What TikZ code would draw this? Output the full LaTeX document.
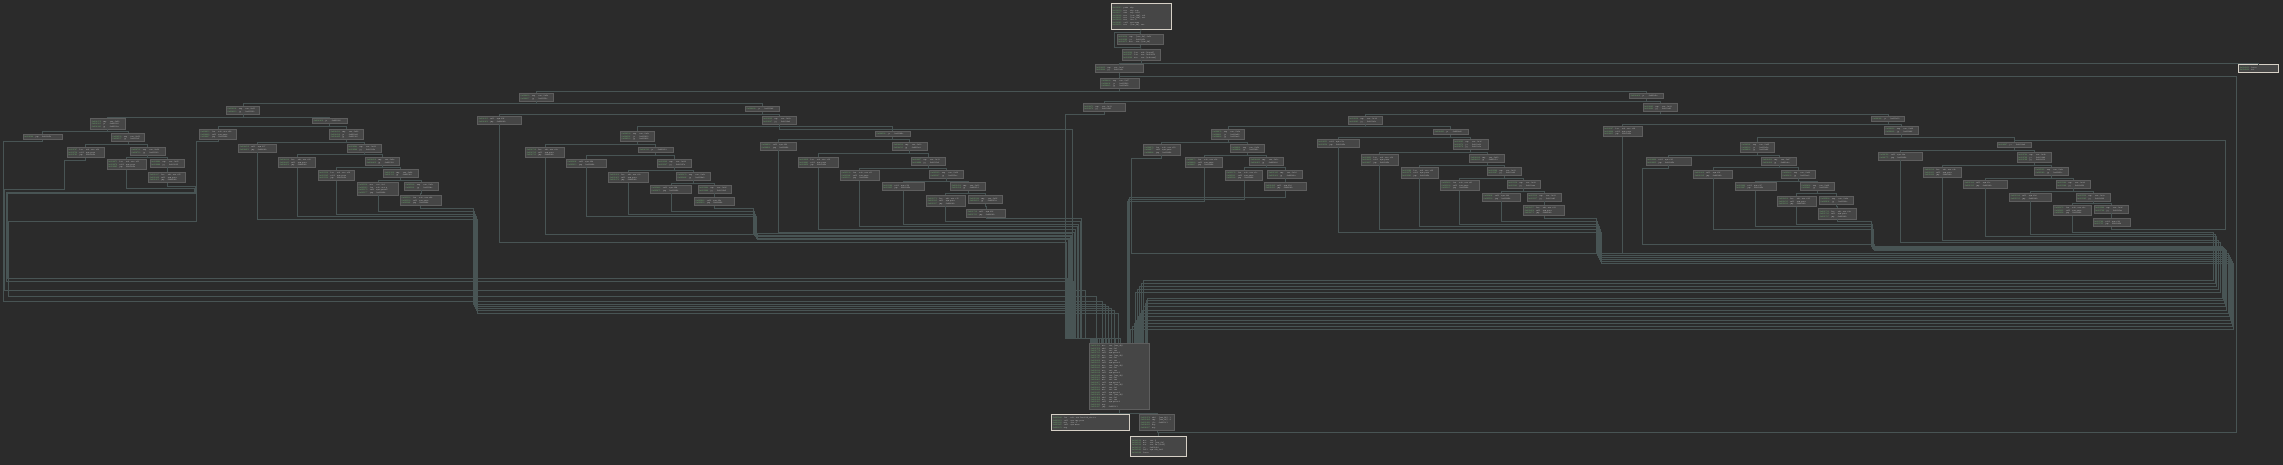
\documentclass[tikz,border=0pt]{standalone}
\usepackage{tikz}
\usetikzlibrary{positioning, calc}

\definecolor{bgdark}{RGB}{43,43,43}
\definecolor{blkfill}{RGB}{70,70,70}
\definecolor{blkline}{RGB}{94,94,94}
\definecolor{hiline}{RGB}{214,208,198}
\definecolor{addrgreen}{RGB}{112,178,112}
\definecolor{opgray}{RGB}{196,196,196}
\definecolor{edgecol}{RGB}{72,84,84}

\newcounter{addr}
\setcounter{addr}{4096}
\newcommand{\op}[2]{\par\noindent\addtocounter{addr}{7}\rule[-0.65pt]{0pt}{2.45pt}\textcolor{addrgreen}{0x00\arabic{addr}}\hspace{2.2pt}\makebox[5.5pt][l]{#1}\hspace{1.2pt}#2}
\newcommand{\cmpjg}[2]{\op{cmp}{eax, #1}\op{jg}{#2}}
\newcommand{\jeonly}[1]{\op{je}{#1}}
\newcommand{\cmpjj}[3]{\op{cmp}{eax, #1}\op{je}{#2}\op{jg}{#3}}
\newcommand{\putsleaf}[1]{\op{lea}{rdi, #1}\op{call}{sym.puts}\op{jmp}{0x40226b}}
\newcommand{\callleaf}[1]{\op{call}{#1}\op{jmp}{0x40226b}}

\begin{document}
\begin{tikzpicture}[x=1pt, y=-1pt,
  blk/.style={draw=blkline, fill=blkfill, line width=0.5pt, anchor=north west,
    inner xsep=1.4pt, inner ysep=1.2pt, text=opgray,
    font=\fontsize{2.1}{2.45}\selectfont\ttfamily},
  hiblk/.style={blk, draw=hiline, line width=0.8pt},
  cfgline/.style={draw=edgecol, line width=0.6pt}]
  \useasboundingbox (0,0) rectangle (2283,465);
  \fill[bgdark] (0,0) rectangle (2283,465);

  % Entry and dispatch
  \node[hiblk, text width=57.2pt, minimum height=25.4pt] (B0) at (1110.7,3.3) {\op{push}{rbp}\op{mov}{rbp, rsp}\op{sub}{rsp, 0x20}\op{mov}{[var\_14h], edi}\op{mov}{[var\_20h], rsi}\op{mov}{eax, 0}\op{call}{sym.menu}\op{mov}{[var\_4h], eax}};
  \node[blk, text width=43.2pt] (B1) at (1116.7,34) {\op{cmp}{[var\_4h], 0x5f}\op{ja}{0x40226b}\op{mov}{eax, [var\_4h]}};
  \node[blk, text width=35.5pt] (B2) at (1121.7,49.3) {\op{lea}{rdx, [rax*4]}\op{lea}{rax, 0x402010}\op{mov}{eax, [rdx+rax]}};
  \node[hiblk, text width=37.2pt] (R) at (2238.3,64.3) {\op{leave}{}\op{ret}{}};
  \node[blk, text width=45.2pt] (B3) at (1094.7,64.5) {\cmpjg{0x2f}{0x401e9c}};
  \node[blk, text width=35.9pt] (B4) at (1100,78) {\cmpjj{0x17}{0x4016f2}{0x401a54}};
  \node[blk, text width=31.5pt] (c0) at (519,92.7) {\cmpjg{0x0b}{0x40150e}};
  \node[blk, text width=31.2pt] (d0) at (1629.3,92.7) {\jeonly{0x401d2c}};
  \node[blk, text width=39.2pt] (B5) at (1082.7,103.3) {\cmpjg{0x11}{0x401620}};
  \node[blk, text width=31.2pt] (d1) at (1642.7,103.3) {\cmpjg{0x23}{0x401c80}};
  \node[blk, text width=31.2pt] (c1) at (745,105.7) {\jeonly{0x4013b6}};
  \node[blk, text width=30.5pt] (b1) at (226,106) {\cmpjg{0x05}{0x401302}};
  \node[blk, text width=31.5pt] (c2) at (761.7,115.7) {\cmpjg{0x0e}{0x4014a8}};
  \node[blk, text width=31.2pt] (e0) at (1347.7,115.7) {\cmpjg{0x1d}{0x401b3e}};
  \node[blk, text width=30.5pt] (f0) at (1871,115.7) {\jeonly{0x401e10}};
  \node[blk, text width=41.2pt] (c3) at (477.3,116) {\callleaf{sym.f06}};
  \node[blk, text width=31.6pt] (b3) at (312.3,118) {\jeonly{0x401290}};
  \node[blk, text width=31.6pt] (a1) at (90.3,118.3) {\cmpjj{0x02}{0x401188}{0x40120a}};
  \node[blk, text width=36.2pt] (g0) at (1602.7,126) {\putsleaf{str.c24}};
  \node[blk, text width=30.9pt] (f1) at (1884,126) {\cmpjg{0x29}{0x401f46}};
  \node[blk, text width=31.2pt] (b4) at (329.3,128.7) {\cmpjj{0x08}{0x4012d4}{0x401340}};
  \node[blk, text width=34.5pt] (b2) at (199,129) {\putsleaf{str.c04}};
  \node[blk, text width=30.5pt] (e1) at (1211,129) {\cmpjj{0x1a}{0x401a90}{0x401ae2}};
  \node[blk, text width=31.6pt] (e2) at (1433.3,129) {\jeonly{0x401bd0}};
  \node[blk, text width=32.2pt] (c5) at (875,131) {\jeonly{0x40146c}};
  \node[blk, text width=31.2pt] (c6) at (620,131) {\cmpjj{0x0c}{0x401410}{0x401438}};
  \node[blk, text width=30.5pt] (a3) at (111,133.3) {\cmpjg{0x03}{0x4011c6}};
  \node[blk, text width=36.5pt] (a2) at (22.7,133.7) {\op{jmp}{0x40226b}};
  \node[blk, text width=39.5pt] (e10) at (1316.7,139) {\callleaf{sym.f1e}};
  \node[blk, text width=32.2pt] (e11) at (1452.7,139) {\cmpjj{0x1f}{0x401c02}{0x401c3a}};
  \node[blk, text width=31.5pt] (g1) at (1740,141.7) {\cmpjj{0x26}{0x401e5a}{0x401e96}};
  \node[blk, text width=31.2pt] (h0) at (1996.7,141.7) {\jeonly{0x401fa8}};
  \node[blk, text width=33.2pt] (c4) at (760,142) {\callleaf{sym.f0f}};
  \node[blk, text width=31.6pt] (c16) at (892.3,142) {\cmpjg{0x12}{0x4015a2}};
  \node[blk, text width=31.2pt] (b6) at (346.7,143.7) {\cmpjg{0x09}{0x40136a}};
  \node[blk, text width=35.2pt] (b5) at (238.3,144) {\callleaf{sym.f07}};
  \node[blk, text width=34.2pt] (e3) at (1143,144.3) {\putsleaf{str.c19}};
  \node[blk, text width=31.5pt] (e4) at (1230,144.3) {\cmpjg{0x1b}{0x401b0c}};
  \node[blk, text width=31.9pt] (a5) at (130,146.7) {\cmpjg{0x04}{0x4011f0}};
  \node[blk, text width=35.9pt] (c7) at (525.3,146.7) {\putsleaf{str.c0a}};
  \node[blk, text width=31.6pt] (c8) at (638.3,146.7) {\jeonly{0x401452}};
  \node[blk, text width=34.2pt] (a4) at (66.7,147) {\putsleaf{str.c02}};
  \node[blk, text width=40.9pt] (f2) at (1878,151.7) {\callleaf{sym.f2a}};
  \node[blk, text width=31.5pt] (h1) at (2016.7,151.7) {\cmpjj{0x2b}{0x401fd4}{0x402012}};
  \node[blk, text width=34.5pt] (e12) at (1360.7,154.3) {\putsleaf{str.c1f}};
  \node[blk, text width=32.2pt] (e13) at (1469.3,154.3) {\cmpjg{0x20}{0x401c5e}};
  \node[blk, text width=33.9pt] (b7) at (278.3,156.7) {\putsleaf{str.c08}};
  \node[blk, text width=31.2pt] (b8) at (365.3,156.7) {\cmpjg{0x0a}{0x401392}};
  \node[blk, text width=34.5pt] (e5) at (1185,156.7) {\putsleaf{str.c1b}};
  \node[blk, text width=31.2pt] (e6) at (1249.3,156.7) {\cmpjg{0x1c}{0x401b28}};
  \node[blk, text width=42.2pt] (g2) at (1645.7,156.7) {\callleaf{sym.f25}};
  \node[blk, text width=31.9pt] (g3) at (1761.3,156.7) {\cmpjg{0x27}{0x401ebc}};
  \node[blk, text width=37.5pt] (c17) at (797.7,157) {\putsleaf{str.c10}};
  \node[blk, text width=31.5pt] (c18) at (910.7,157) {\cmpjg{0x13}{0x4015c8}};
  \node[blk, text width=36.2pt] (a6) at (106.7,159) {\putsleaf{str.c03}};
  \node[blk, text width=31.2pt] (a7) at (149.7,159) {\cmpjg{0x05}{0x401216}};
  \node[blk, text width=37.2pt] (c9) at (566,159) {\callleaf{sym.f0b}};
  \node[blk, text width=31.2pt] (c10) at (656.7,159) {\cmpjg{0x0d}{0x40147a}};
  \node[blk, text width=34.6pt] (h2) at (1923.3,167) {\putsleaf{str.c2b}};
  \node[blk, text width=30.9pt] (h3) at (2034,167) {\cmpjg{0x2c}{0x40203c}};
  \node[blk, text width=34.2pt] (e14) at (1400.7,167.3) {\putsleaf{str.c20}};
  \node[blk, text width=31.5pt] (e15) at (1486.7,167.3) {\cmpjg{0x21}{0x401c84}};
  \node[blk, text width=31.6pt] (b10) at (383.3,169.3) {\cmpjg{0x0b}{0x4013b8}};
  \node[blk, text width=33.8pt] (b9) at (317.7,169.7) {\putsleaf{str.c09}};
  \node[blk, text width=36.2pt] (c19) at (840,170) {\putsleaf{str.c11}};
  \node[blk, text width=30.9pt] (c20) at (929,170) {\cmpjg{0x14}{0x4015ee}};
  \node[blk, text width=34.5pt] (e7) at (1225,170) {\putsleaf{str.c1c}};
  \node[blk, text width=32.2pt] (e8) at (1267.3,170) {\cmpjg{0x1d}{0x401b4e}};
  \node[blk, text width=36.2pt] (g4) at (1693.3,170) {\callleaf{sym.f26}};
  \node[blk, text width=31.2pt] (g5) at (1781,170) {\cmpjg{0x28}{0x401ee2}};
  \node[blk, text width=34.2pt] (a8) at (148.3,172) {\putsleaf{str.c05}};
  \node[blk, text width=36.6pt] (c11) at (608.3,172) {\putsleaf{str.c0c}};
  \node[blk, text width=31.2pt] (c12) at (676,172) {\cmpjg{0x0e}{0x4014a0}};
  \node[blk, text width=36.2pt] (e16) at (1440,180) {\putsleaf{str.c21}};
  \node[blk, text width=30.5pt] (e17) at (1506.7,180) {\cmpjg{0x22}{0x401caa}};
  \node[blk, text width=41.2pt] (h4) at (1963.3,180) {\callleaf{sym.f2c}};
  \node[blk, text width=31.5pt] (h5) at (2055.7,180) {\cmpjg{0x2d}{0x402062}};
  \node[blk, text width=38.5pt] (b11) at (357,182) {\op{mov}{esi, 0x3}\op{lea}{rdi, str.q}\op{call}{sym.printf}\op{jmp}{0x40226b}};
  \node[blk, text width=30.9pt] (b12) at (404,182) {\cmpjg{0x0c}{0x4013de}};
  \node[blk, text width=39.8pt] (c21) at (881.7,182.3) {\callleaf{sym.f14}};
  \node[blk, text width=31.9pt] (c22) at (950.3,182.3) {\cmpjg{0x15}{0x401614}};
  \node[blk, text width=38.9pt] (e9) at (1264.3,182.3) {\callleaf{sym.f1d}};
  \node[blk, text width=38.2pt] (g6) at (1734.7,182.3) {\callleaf{sym.f27}};
  \node[blk, text width=30.9pt] (g7) at (1800,182.3) {\cmpjg{0x29}{0x401f08}};
  \node[blk, text width=38.5pt] (c13) at (650,185) {\callleaf{sym.f0d}};
  \node[blk, text width=30.5pt] (c14) at (697.7,185) {\cmpjg{0x0f}{0x4014c6}};
  \node[blk, text width=35.2pt] (e18) at (1482,192.7) {\callleaf{sym.f22}};
  \node[blk, text width=31.5pt] (e19) at (1526.7,192.7) {\cmpjg{0x23}{0x401cd0}};
  \node[blk, text width=39.2pt] (h6) at (2009.3,192.7) {\callleaf{sym.f2d}};
  \node[blk, text width=31.2pt] (h7) at (2075.7,192.7) {\cmpjg{0x2e}{0x402088}};
  \node[blk, text width=37.9pt] (b13) at (400,195) {\putsleaf{str.c0b}};
  \node[blk, text width=35.6pt] (c23) at (926.3,195.3) {\putsleaf{str.c15}};
  \node[blk, text width=31.2pt] (c24) at (968.3,195.3) {\cmpjg{0x16}{0x40163a}};
  \node[blk, text width=35.6pt] (g8) at (1777.3,195.7) {\putsleaf{str.c29}};
  \node[blk, text width=31.5pt] (g9) at (1819,195.7) {\cmpjg{0x2a}{0x401f2e}};
  \node[blk, text width=37.5pt] (c15) at (694,197.3) {\callleaf{sym.f0e}};
  \node[blk, text width=37.9pt] (e20) at (1523.3,205) {\putsleaf{str.c23}};
  \node[blk, text width=35.2pt] (h8) at (2053,205) {\putsleaf{str.c2e}};
  \node[blk, text width=31.2pt] (h9) at (2093.7,205) {\cmpjg{0x2f}{0x4020ae}};
  \node[blk, text width=34.9pt] (g10) at (1818.3,208.3) {\putsleaf{str.c2a}};
  \node[blk, text width=36.2pt] (c25) at (966.3,208.7) {\callleaf{sym.f16}};
  \node[blk, text width=34.5pt] (h10) at (2092.7,218.3) {\callleaf{sym.f2f}};

  % Join block and exits
  \node[blk, text width=56.9pt] (big) at (1089.3,342.7) {\foreach \k in {1,...,6}{\op{mov}{eax, [var\_4h]}\op{add}{eax, 0x1}\op{mov}{esi, eax}\op{call}{sym.printf}}\op{nop}{}\op{jmp}{0x4011f3}};
  \node[hiblk, text width=75.2pt, minimum height=15.7pt] (P1) at (1051,414.3) {\op{lea}{rdi, str.Invalid\_choice}\op{call}{sym.imp.puts}\op{mov}{eax, 0}\op{call}{sym.menu}\op{nop}{}};
  \node[blk, text width=32.2pt, minimum height=15.7pt] (P2) at (1139.3,414.3) {\op{add}{[var\_8h], 1}\op{cmp}{[var\_8h], 9}\op{jle}{0x4011f3}\op{nop}{}\op{nop}{}};
  \node[hiblk, text width=52.6pt, minimum height=20.3pt] (P3) at (1130.3,435.7) {\op{mov}{eax, 0}\op{mov}{rcx, [var\_8h]}\op{xor}{rcx, fs:[0x28]}\op{je}{0x4022b1}\op{call}{sym.chk\_fail}\op{leave}{}};

  % Tree edges
  \draw[cfgline] (B0.south) -- (B1.north);
  \draw[cfgline] (B1.south) -- ++(0,2) -| (1114.5,32) -| (B1.north);
  \draw[cfgline] (B1.south) -- (B2.north);
  \draw[cfgline] (B2.south) -- ++(0,3.5) -| (B3.north);
  \draw[cfgline] (B2.south) -- ++(0,3.5) -| (R.north);
  \draw[cfgline] (B3.south) -- ++(0,2.5) -| (B4.north);
  \draw[cfgline] (B4.south) -- ++(0,2.5) -| (c0.north);
  \draw[cfgline] (B4.south) -- ++(0,2.5) -| (d0.north);
  \draw[cfgline] (d0.south) -- ++(0,2.5) -| (B5.north);
  \draw[cfgline] (d0.south) -- ++(0,2.5) -| (d1.north);
  \draw[cfgline] (c0.south) -- ++(0,2.5) -| (b1.north);
  \draw[cfgline] (c0.south) -- ++(0,2.5) -| (c1.north);
  \draw[cfgline] (c1.south) -- ++(0,2.5) -| (c3.north);
  \draw[cfgline] (c1.south) -- ++(0,2.5) -| (c2.north);
  \draw[cfgline] (c2.south) -- ++(0,2.5) -| (c6.north);
  \draw[cfgline] (c2.south) -- ++(0,2.5) -| (c5.north);
  \draw[cfgline] (c5.south) -- ++(0,2.5) -| (c4.north);
  \draw[cfgline] (c5.south) -- ++(0,2.5) -| (c16.north);
  \draw[cfgline] (c6.south) -- ++(0,2.5) -| (c7.north);
  \draw[cfgline] (c6.south) -- ++(0,2.5) -| (c8.north);
  \draw[cfgline] (c8.south) -- ++(0,2.5) -| (c9.north);
  \draw[cfgline] (c8.south) -- ++(0,2.5) -| (c10.north);
  \draw[cfgline] (c10.south) -- ++(0,2.5) -| (c11.north);
  \draw[cfgline] (c10.south) -- ++(0,2.5) -| (c12.north);
  \draw[cfgline] (c12.south) -- ++(0,2.5) -| (c13.north);
  \draw[cfgline] (c12.south) -- ++(0,2.5) -| (c14.north);
  \draw[cfgline] (c14.south) -- ++(0,2.5) -| (c15.north);
  \draw[cfgline] (c16.south) -- ++(0,2.5) -| (c17.north);
  \draw[cfgline] (c16.south) -- ++(0,2.5) -| (c18.north);
  \draw[cfgline] (c18.south) -- ++(0,2.5) -| (c19.north);
  \draw[cfgline] (c18.south) -- ++(0,2.5) -| (c20.north);
  \draw[cfgline] (c20.south) -- ++(0,2.5) -| (c21.north);
  \draw[cfgline] (c20.south) -- ++(0,2.5) -| (c22.north);
  \draw[cfgline] (c22.south) -- ++(0,2.5) -| (c23.north);
  \draw[cfgline] (c22.south) -- ++(0,2.5) -| (c24.north);
  \draw[cfgline] (c24.south) -- ++(0,2.5) -| (c25.north);
  \draw[cfgline] (b1.south) -- ++(0,2.5) -| (a1.north);
  \draw[cfgline] (b1.south) -- ++(0,2.5) -| (b3.north);
  \draw[cfgline] (a1.south) -- ++(0,2.5) -| (a2.north);
  \draw[cfgline] (a1.south) -- ++(0,2.5) -| (a3.north);
  \draw[cfgline] (a3.south) -- ++(0,2.5) -| (a4.north);
  \draw[cfgline] (a3.south) -- ++(0,2.5) -| (a5.north);
  \draw[cfgline] (a5.south) -- ++(0,2.5) -| (a6.north);
  \draw[cfgline] (a5.south) -- ++(0,2.5) -| (a7.north);
  \draw[cfgline] (a7.south) -- ++(0,2.5) -| (a8.north);
  \draw[cfgline] (b3.south) -- ++(0,2.5) -| (b2.north);
  \draw[cfgline] (b3.south) -- ++(0,2.5) -| (b4.north);
  \draw[cfgline] (b4.south) -- ++(0,2.5) -| (b5.north);
  \draw[cfgline] (b4.south) -- ++(0,2.5) -| (b6.north);
  \draw[cfgline] (b6.south) -- ++(0,2.5) -| (b7.north);
  \draw[cfgline] (b6.south) -- ++(0,2.5) -| (b8.north);
  \draw[cfgline] (b8.south) -- ++(0,2.5) -| (b9.north);
  \draw[cfgline] (b8.south) -- ++(0,2.5) -| (b10.north);
  \draw[cfgline] (b10.south) -- ++(0,2.5) -| (b11.north);
  \draw[cfgline] (b10.south) -- ++(0,2.5) -| (b12.north);
  \draw[cfgline] (b12.south) -- ++(0,2.5) -| (b13.north);
  \draw[cfgline] (d1.south) -- ++(0,2.5) -| (e0.north);
  \draw[cfgline] (d1.south) -- ++(0,2.5) -| (f0.north);
  \draw[cfgline] (e0.south) -- ++(0,2.5) -| (e1.north);
  \draw[cfgline] (e0.south) -- ++(0,2.5) -| (e2.north);
  \draw[cfgline] (e1.south) -- ++(0,2.5) -| (e3.north);
  \draw[cfgline] (e1.south) -- ++(0,2.5) -| (e4.north);
  \draw[cfgline] (e4.south) -- ++(0,2.5) -| (e5.north);
  \draw[cfgline] (e4.south) -- ++(0,2.5) -| (e6.north);
  \draw[cfgline] (e6.south) -- ++(0,2.5) -| (e7.north);
  \draw[cfgline] (e6.south) -- ++(0,2.5) -| (e8.north);
  \draw[cfgline] (e8.south) -- ++(0,2.5) -| (e9.north);
  \draw[cfgline] (e2.south) -- ++(0,2.5) -| (e10.north);
  \draw[cfgline] (e2.south) -- ++(0,2.5) -| (e11.north);
  \draw[cfgline] (e11.south) -- ++(0,2.5) -| (e12.north);
  \draw[cfgline] (e11.south) -- ++(0,2.5) -| (e13.north);
  \draw[cfgline] (e13.south) -- ++(0,2.5) -| (e14.north);
  \draw[cfgline] (e13.south) -- ++(0,2.5) -| (e15.north);
  \draw[cfgline] (e15.south) -- ++(0,2.5) -| (e16.north);
  \draw[cfgline] (e15.south) -- ++(0,2.5) -| (e17.north);
  \draw[cfgline] (e17.south) -- ++(0,2.5) -| (e18.north);
  \draw[cfgline] (e17.south) -- ++(0,2.5) -| (e19.north);
  \draw[cfgline] (e19.south) -- ++(0,2.5) -| (e20.north);
  \draw[cfgline] (f0.south) -- ++(0,2.5) -| (g0.north);
  \draw[cfgline] (f0.south) -- ++(0,2.5) -| (f1.north);
  \draw[cfgline] (f1.south) -- ++(0,2.5) -| (g1.north);
  \draw[cfgline] (f1.south) -- ++(0,2.5) -| (h0.north);
  \draw[cfgline] (h0.south) -- ++(0,2.5) -| (f2.north);
  \draw[cfgline] (h0.south) -- ++(0,2.5) -| (h1.north);
  \draw[cfgline] (g1.south) -- ++(0,2.5) -| (g2.north);
  \draw[cfgline] (g1.south) -- ++(0,2.5) -| (g3.north);
  \draw[cfgline] (g3.south) -- ++(0,2.5) -| (g4.north);
  \draw[cfgline] (g3.south) -- ++(0,2.5) -| (g5.north);
  \draw[cfgline] (g5.south) -- ++(0,2.5) -| (g6.north);
  \draw[cfgline] (g5.south) -- ++(0,2.5) -| (g7.north);
  \draw[cfgline] (g7.south) -- ++(0,2.5) -| (g8.north);
  \draw[cfgline] (g7.south) -- ++(0,2.5) -| (g9.north);
  \draw[cfgline] (g9.south) -- ++(0,2.5) -| (g10.north);
  \draw[cfgline] (h1.south) -- ++(0,2.5) -| (h2.north);
  \draw[cfgline] (h1.south) -- ++(0,2.5) -| (h3.north);
  \draw[cfgline] (h3.south) -- ++(0,2.5) -| (h4.north);
  \draw[cfgline] (h3.south) -- ++(0,2.5) -| (h5.north);
  \draw[cfgline] (h5.south) -- ++(0,2.5) -| (h6.north);
  \draw[cfgline] (h5.south) -- ++(0,2.5) -| (h7.north);
  \draw[cfgline] (h7.south) -- ++(0,2.5) -| (h8.north);
  \draw[cfgline] (h7.south) -- ++(0,2.5) -| (h9.north);
  \draw[cfgline] (h9.south) -- ++(0,2.5) -| (h10.north);

  % Loops
  \draw[cfgline] (e3.south) -- ++(0,3.5) -| (1130.8,253.3) -| (g0.south);
  \draw[cfgline] (h10.south) -- ++(0,3) -| (2225.7,140) -| (h0.north);

  % Left bundle
  \draw[cfgline] (a2.south) |- (3,141.7) |- (1102,301.7) -- (1102,0 |- big.north);
  \draw[cfgline] (a4.south) |- (64.3,160.3) |- (4.5,189.3) |- (1085,290) -- (1085,338) -| (1092,0 |- big.north);
  \draw[cfgline] (a6.south) |- (194,188) |- (6,192) |- (1073,281) -- (1073,338) -| (1094,0 |- big.north);
  \draw[cfgline] (a8.south) |- (195.5,186.5) |- (7,193.5) |- (1067.5,278) -- (1067.5,338) -| (1090.5,0 |- big.north);
  \draw[cfgline] (b2.south) |- (196.7,141.7) |- (8,221.7) |- (1096,296) -- (1096,0 |- big.north);
  % Middle left bundle
  \draw[cfgline] (b5.south) |- (477,219.3) |- (1118,313) -- (1118,0 |- big.north);
  \draw[cfgline] (b7.south) |- (476,216.7) |- (1114,310) -- (1114,0 |- big.north);
  \draw[cfgline] (b9.south) |- (475,214.3) |- (1111,308) -- (1111,0 |- big.north);
  \draw[cfgline] (b11.south) |- (474,211.7) |- (1108,306) -- (1108,0 |- big.north);
  \draw[cfgline] (b13.south) |- (473,208) |- (1105,304) -- (1105,0 |- big.north);
  % Centre bundle
  \draw[cfgline] (c3.south) |- (1066.5,242.3) -- (1066.5,338) -| (1091,0 |- big.north);
  \draw[cfgline] (c7.south) |- (757,234) |- (1068,239.5) -- (1068,338) -| (1093,0 |- big.north);
  \draw[cfgline] (c9.south) |- (756,216) |- (1069,238) -- (1069,338) -| (1095,0 |- big.north);
  \draw[cfgline] (c11.south) |- (755,214.3) |- (1070,236.5) -- (1070,338) -| (1097,0 |- big.north);
  \draw[cfgline] (c13.south) |- (754,211) |- (1071,235) -- (1071,338) -| (1099,0 |- big.north);
  \draw[cfgline] (c15.south) |- (753,208) |- (1072,233.5) -- (1072,338) -| (1101,0 |- big.north);
  \draw[cfgline] (B5.south) |- (1065.3,114) -- (1065.3,338) -| (1090,0 |- big.north);
  \draw[cfgline] (c2.south) |- (1072.7,129.3) -- (1072.7,338) -| (1099,0 |- big.north);
  \draw[cfgline] (c4.south) |- (1074,232.3) -- (1074,338) -| (1103,0 |- big.north);
  \draw[cfgline] (c17.south) |- (1075.5,229) -- (1075.5,338) -| (1106,0 |- big.north);
  \draw[cfgline] (c19.south) |- (1077,226.7) -- (1077,338) -| (1109,0 |- big.north);
  \draw[cfgline] (c21.south) |- (1078.5,224.3) -- (1078.5,338) -| (1111.7,0 |- big.north);
  \draw[cfgline] (c23.south) |- (1080,221.3) -- (1080,338) -| (1115,0 |- big.north);
  \draw[cfgline] (c25.south) |- (1081.5,218) -- (1081.5,338) -| (1120,0 |- big.north);
  \draw[cfgline] (e5.south) |- (1127,201) -- (1127,0 |- big.north);
  \draw[cfgline] (e7.south) |- (1128.3,199.2) -- (1128.3,0 |- big.north);
  \draw[cfgline] (e9.south) |- (1129.5,197.3) -- (1129.5,0 |- big.north);
  % Right bundles
  \draw[cfgline] (e10.south) |- (1601,232.3) |- (2233,263.3) |- (1130.5,329) -- (1130.5,0 |- big.north);
  \draw[cfgline] (e12.south) |- (1600,229.3) |- (2232,261) |- (1132,326) -- (1132,0 |- big.north);
  \draw[cfgline] (e14.south) |- (1599,226.7) |- (2231,259) |- (1134,323) -- (1134,0 |- big.north);
  \draw[cfgline] (e16.south) |- (1598,224.3) |- (2230,257) |- (1136,320) -- (1136,0 |- big.north);
  \draw[cfgline] (e18.south) |- (1597,221.7) |- (2229,255) |- (1138,316) -- (1138,0 |- big.north);
  \draw[cfgline] (e20.south) |- (1596,218.5) |- (2228,253) |- (1140,313) -- (1140,0 |- big.north);
  \draw[cfgline] (g2.south) |- (1642.3,168) |- (1874.3,244.3) |- (2226,250) |- (1142,310) -- (1142,0 |- big.north);
  \draw[cfgline] (g4.south) |- (1873.5,229.3) |- (2225,249) |- (1143.5,306) -- (1143.5,0 |- big.north);
  \draw[cfgline] (g6.south) |- (1872.7,226.7) |- (2224,248) |- (1145,303) -- (1145,0 |- big.north);
  \draw[cfgline] (g8.south) |- (1872,224.3) |- (2223,247) |- (1146,300.5) -- (1146,0 |- big.north);
  \draw[cfgline] (g10.south) |- (1871.2,221.5) |- (2222,246) |- (1147,298) -- (1147,0 |- big.north);
  \draw[cfgline] (f2.south) |- (2220,242.3) |- (1135,292) -- (1135,0 |- big.north);
  \draw[cfgline] (h2.south) |- (2218,240) |- (1137,289) -- (1137,0 |- big.north);
  \draw[cfgline] (h4.south) |- (2216.5,236.7) |- (1139,286) -- (1139,0 |- big.north);
  \draw[cfgline] (h6.south) |- (2215,234.3) |- (1141,283) -- (1141,0 |- big.north);
  \draw[cfgline] (h8.south) |- (2213.5,232.3) |- (1143,280) -- (1143,0 |- big.north);

  % Exits
  \draw[cfgline] (B3.south) |- (2236,76) |- (P3.north |- 0,432) -- (P3.north);
  \draw[cfgline] (big.south) -- ++(0,3.5) -| (P1.north);
  \draw[cfgline] (big.south) -- ++(0,3.5) -| (P2.north);
  \draw[cfgline] (P2.south) -- ++(0,2) -| (P3.north);
\end{tikzpicture}
\end{document}
